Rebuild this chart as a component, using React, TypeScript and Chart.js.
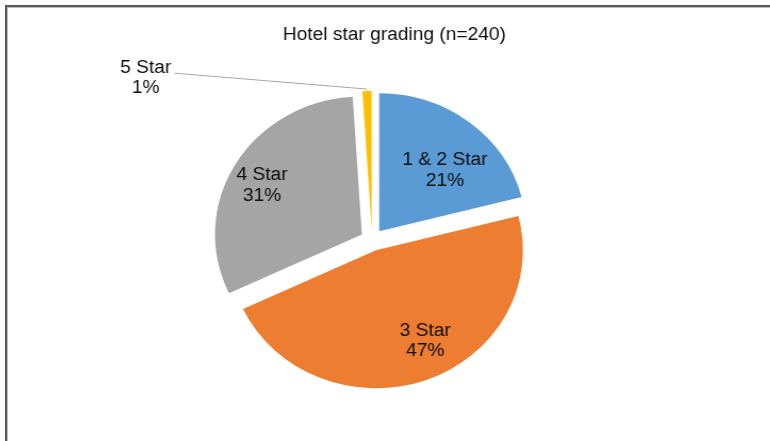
import React, { useEffect, useRef } from 'react';
import { Chart, registerables } from 'chart.js';

Chart.register(...registerables);

// ---- data ----
const categories = ['1 & 2 Star', '3 Star', '4 Star', '5 Star'];
const shares = [21, 47, 31, 1];
const percentLabels = ['21%', '47%', '31%', '1%'];
const sliceColors = ['#5B9BD5', '#ED7D31', '#A5A5A5', '#FFC000'];
const chartTitle = 'Hotel star grading (n=240)';

// ---- layout / style ----
const FONT = '"Liberation Sans", Arial, sans-serif';
const STRETCH_X = 1.065;
const PIE_CENTER_X = 372;
const EXPLODE = 11;
const RADIUS = 138;
const TITLE_SHIFT = 21;
const LINE_GAP = 20.5;
// label placement: fraction of radius and angular nudge (deg) relative to slice mid-angle
const LABEL_PLACEMENT = [
  { k: 0.628, turn: 7.7, leader: false },
  { k: 0.737, turn: -7.2, leader: false },
  { k: 0.767, turn: -3, leader: false },
  { k: 1.887, turn: -52.8, leader: true },
];

const explodePlugin = {
  id: 'explodedSlices',
  afterLayout(chart: any) {
    const tb = chart.titleBlock;
    if (tb) {
      tb.left += TITLE_SHIFT;
      tb.right += TITLE_SHIFT;
    }
  },
  beforeDatasetDraw(chart: any, args: any) {
    const ctx = chart.ctx;
    args.meta.data.forEach((arc: any) => {
      const mid = (arc.startAngle + arc.endAngle) / 2;
      ctx.save();
      ctx.translate(Math.cos(mid) * EXPLODE, Math.sin(mid) * EXPLODE);
      arc.draw(ctx);
      ctx.restore();
    });
    return false;
  },
  afterDraw(chart: any) {
    const meta = chart.getDatasetMeta(0);
    const ctx = chart.ctx;
    ctx.save();
    ctx.font = `18px ${FONT}`;
    ctx.fillStyle = '#0d0d0d';
    ctx.textAlign = 'center';
    ctx.textBaseline = 'middle';
    meta.data.forEach((arc: any, i: number) => {
      const mid = (arc.startAngle + arc.endAngle) / 2;
      const cx = arc.x + Math.cos(mid) * EXPLODE;
      const cy = arc.y + Math.sin(mid) * EXPLODE;
      const p = LABEL_PLACEMENT[i];
      const a = mid + (p.turn * Math.PI) / 180;
      const lx = cx + Math.cos(a) * p.k * arc.outerRadius;
      const ly = cy + Math.sin(a) * p.k * arc.outerRadius;
      if (p.leader) {
        const w = ctx.measureText(categories[i]).width;
        const ex = cx + Math.cos(mid) * (arc.outerRadius + 2);
        const ey = cy + Math.sin(mid) * (arc.outerRadius + 2);
        ctx.save();
        ctx.strokeStyle = '#a6a6a6';
        ctx.lineWidth = 1;
        ctx.beginPath();
        ctx.moveTo(lx + w / 2 + 3, ly - 5);
        ctx.lineTo(ex, ey);
        ctx.stroke();
        ctx.restore();
      }
      ctx.fillText(categories[i], lx, ly - LINE_GAP / 2);
      ctx.fillText(percentLabels[i], lx, ly + LINE_GAP / 2);
    });
    ctx.restore();
  },
};

export default function App() {
  const ref = useRef<HTMLCanvasElement>(null);

  useEffect(() => {
    document.body.style.margin = '0';
    const chart = new Chart(ref.current as HTMLCanvasElement, {
      type: 'pie',
      data: {
        labels: categories,
        datasets: [
          {
            data: shares,
            backgroundColor: sliceColors,
            borderWidth: 0,
            offset: 0,
            radius: RADIUS,
          } as any,
        ],
      },
      options: {
        responsive: false,
        animation: false,
        events: [],
        layout: { padding: { left: 0, right: 26, top: 0, bottom: 16.6 } },
        plugins: {
          legend: { display: false },
          tooltip: { enabled: false },
          title: {
            display: true,
            text: chartTitle,
            color: '#0d0d0d',
            font: { size: 18, weight: 'normal', family: FONT },
            padding: { top: 24, bottom: 10 },
          },
        },
      } as any,
      plugins: [explodePlugin as any],
    });
    return () => chart.destroy();
  }, []);

  return (
    <div
      style={{
        position: 'fixed',
        left: 0,
        top: 0,
        width: 770,
        height: 441,
        overflow: 'hidden',
        background: '#fff',
      }}
    >
      <div
        style={{
          position: 'absolute',
          left: 5,
          top: 5,
          width: 900,
          height: 600,
          borderLeft: '2px solid #5a5a5a',
          borderTop: '2px solid #5a5a5a',
          boxShadow: 'inset 1px 1px 0 #bdbdbd',
        }}
      />
      <canvas
        ref={ref}
        width={770}
        height={441}
        style={{
          position: 'absolute',
          left: 0,
          top: 0,
          width: 770,
          height: 441,
          transform: `scaleX(${STRETCH_X})`,
          transformOrigin: `${PIE_CENTER_X}px 0px`,
        }}
      />
    </div>
  );
}
